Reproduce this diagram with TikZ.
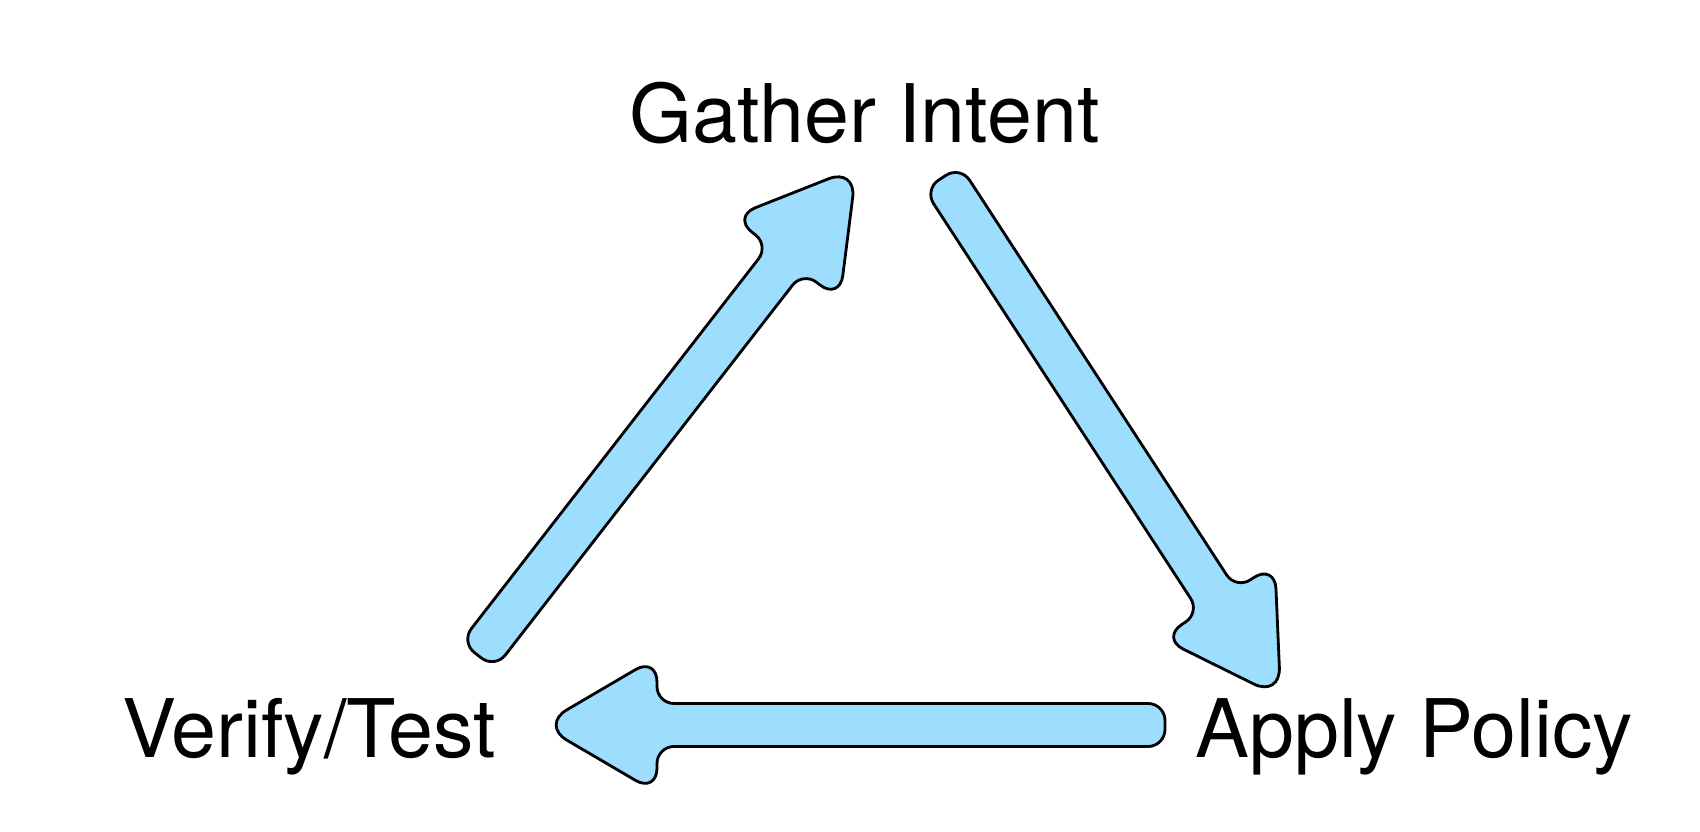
\documentclass[tikz,border=0pt]{standalone}
\usepackage{fontspec}
\setmainfont{TeX Gyre Heros}
\definecolor{arrowblue}{RGB}{157,221,253}

\begin{document}
\begin{tikzpicture}[
    % Stili
    phase/.style={
        font=\fontsize{23}{28}\selectfont,
        anchor=base, inner sep=0pt
    },
    bigarrow/.style={
        draw=black, fill=arrowblue,
        line width=0.8pt, rounded corners=0.17cm
    }
]
\useasboundingbox (0,0) rectangle (17,8.32);

% Fasi del ciclo
\node[phase] (gather) at (8.643,6.893) {Gather Intent};
\node[phase] (apply) at (14.143,0.747) {Apply Policy};
\node[phase] (verify) at (3.09,0.747) {Verify/Test};

% Partenze delle frecce
\coordinate (verifyout) at (4.779,1.767);
\coordinate (gatherout) at (9.423,6.543);
\coordinate (applyout) at (11.65,1.07);

% Verify/Test -> Gather Intent
\begin{scope}[shift={(verifyout)}, rotate=52.17]
    \draw[bigarrow] (0,0.215) -- (5.023,0.215)
        [rounded corners=0.25cm] -- (5.023,0.68)
        [rounded corners=0.3cm] -- (6.173,0)
        [rounded corners=0.25cm] -- (5.023,-0.68)
        [rounded corners=0.17cm] -- (5.023,-0.215) -- (0,-0.215) -- cycle;
\end{scope}

% Gather Intent -> Apply Policy
\begin{scope}[shift={(gatherout)}, rotate=-56.93]
    \draw[bigarrow] (0,0.215) -- (5.051,0.215)
        [rounded corners=0.25cm] -- (5.051,0.68)
        [rounded corners=0.3cm] -- (6.201,0)
        [rounded corners=0.25cm] -- (5.051,-0.68)
        [rounded corners=0.17cm] -- (5.051,-0.215) -- (0,-0.215) -- cycle;
\end{scope}

% Apply Policy -> Verify/Test
\begin{scope}[shift={(applyout)}, rotate=180]
    \draw[bigarrow] (0,0.215) -- (5.08,0.215)
        [rounded corners=0.25cm] -- (5.08,0.68)
        [rounded corners=0.3cm] -- (6.24,0)
        [rounded corners=0.25cm] -- (5.08,-0.68)
        [rounded corners=0.17cm] -- (5.08,-0.215) -- (0,-0.215) -- cycle;
\end{scope}

\end{tikzpicture}
\end{document}
